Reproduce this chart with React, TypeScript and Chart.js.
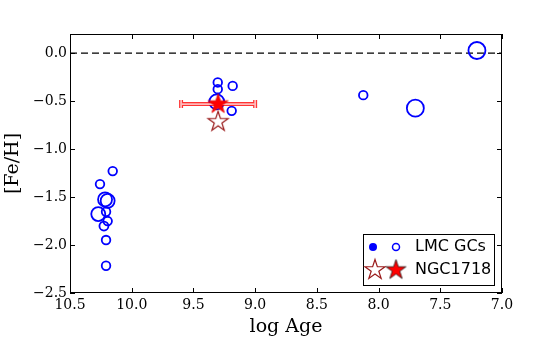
import { useEffect, useRef } from "react";
import { Chart, registerables } from "chart.js";
Chart.register(...registerables);

// LMC globular clusters: log Age, [Fe/H], marker radius
const lmcAge = [10.154, 10.257, 10.216, 10.195, 10.271, 10.208, 10.195, 10.225, 10.208, 10.208, 9.303, 9.303, 9.182, 9.19, 9.311, 8.124, 7.702, 7.203];
const lmcFeH = [-1.229, -1.365, -1.524, -1.539, -1.677, -1.653, -1.75, -1.802, -1.948, -2.216, -0.305, -0.375, -0.341, -0.601, -0.507, -0.4375, -0.573, 0.028];
const lmcSize = [4.3, 4.3, 7, 7, 7, 4.3, 4.3, 4.5, 4.3, 4.3, 4.3, 4.3, 4.3, 4.3, 7.5, 4.3, 8.5, 8.5];

// NGC1718
const ngcAge = [9.3];
const ngcFeH = [-0.53];
const ngcAgeErr = [0.3];
const ngcAltAge = [9.3];
const ngcAltFeH = [-0.715];

const xTicks = [7.0, 7.5, 8.0, 8.5, 9.0, 9.5, 10.0, 10.5];
const yTicks = [-2.5, -2.0, -1.5, -1.0, -0.5, 0.0];
const legendLabels = ["LMC GCs", "NGC1718"];

function makeStar(R: number, fill: string | null, stroke: string, lw: number) {
  const size = Math.ceil(2 * R + 2 * lw + 4);
  const c = document.createElement("canvas");
  c.width = size;
  c.height = size;
  const ctx = c.getContext("2d")!;
  const cx = size / 2;
  const cy = size / 2;
  ctx.beginPath();
  for (let i = 0; i < 10; i++) {
    const r = i % 2 ? R * 0.382 : R;
    const a = -Math.PI / 2 + (i * Math.PI) / 5;
    const x = cx + r * Math.cos(a);
    const y = cy + r * Math.sin(a);
    if (i === 0) ctx.moveTo(x, y);
    else ctx.lineTo(x, y);
  }
  ctx.closePath();
  if (fill) {
    ctx.fillStyle = fill;
    ctx.fill();
  }
  ctx.strokeStyle = stroke;
  ctx.lineWidth = lw;
  ctx.lineJoin = "miter";
  ctx.stroke();
  return c;
}

const fmt = (v: number) => {
  const s = Math.abs(v) < 1e-9 ? "0.0" : v.toFixed(1);
  return s.replace("-", "\u2212");
};

export default function App() {
  const ref = useRef<HTMLCanvasElement>(null);
  useEffect(() => {
    const canvas = ref.current!;
    const plotStar = makeStar(10.5, "#ff0000", "#e00000", 0.8);
    const legendStar = makeStar(10.5, "#ff0000", "#000000", 0.7);
    const openStar = makeStar(10.5, null, "#9a1c1c", 1.2);

    const framePlugin = {
      id: "framePlugin",
      beforeDatasetsDraw(chart: any) {
        const { ctx, chartArea: ca, scales } = chart;
        const y0 = scales.y.getPixelForValue(0);
        ctx.save();
        ctx.strokeStyle = "#000";
        ctx.lineWidth = 1.2;
        ctx.setLineDash([7, 4]);
        ctx.beginPath();
        ctx.moveTo(ca.left, y0);
        ctx.lineTo(ca.right, y0);
        ctx.stroke();
        ctx.restore();
      },
      afterDatasetDraw(chart: any, args: any) {
        if (args.index !== 2) return;
        const { ctx, scales } = chart;
        ctx.save();
        for (let i = 0; i < ngcAge.length; i++) {
          const xa = scales.x.getPixelForValue(ngcAge[i] + ngcAgeErr[i]);
          const xb = scales.x.getPixelForValue(ngcAge[i] - ngcAgeErr[i]);
          const y = scales.y.getPixelForValue(ngcFeH[i]);
          const path = () => {
            ctx.beginPath();
            ctx.moveTo(xa, y);
            ctx.lineTo(xb, y);
            ctx.moveTo(xa, y - 4);
            ctx.lineTo(xa, y + 4);
            ctx.moveTo(xb, y - 4);
            ctx.lineTo(xb, y + 4);
          };
          path();
          ctx.strokeStyle = "rgba(255,0,0,0.8)";
          ctx.lineWidth = 4;
          ctx.stroke();
          path();
          ctx.strokeStyle = "rgba(255,185,185,1)";
          ctx.lineWidth = 1.8;
          ctx.stroke();
        }
        ctx.restore();
      },
      afterDraw(chart: any) {
        const { ctx, chartArea: ca, scales } = chart;
        ctx.save();
        ctx.strokeStyle = "#000";
        ctx.lineWidth = 1;
        ctx.strokeRect(ca.left + 0.5, ca.top + 0.5, ca.right - ca.left - 1, ca.bottom - ca.top - 1);
        const tl = 5;
        ctx.beginPath();
        for (const v of xTicks) {
          const x = Math.round(scales.x.getPixelForValue(v)) + 0.5;
          ctx.moveTo(x, ca.bottom);
          ctx.lineTo(x, ca.bottom - tl);
          ctx.moveTo(x, ca.top);
          ctx.lineTo(x, ca.top + tl);
        }
        for (const v of yTicks) {
          const y = Math.round(scales.y.getPixelForValue(v)) + 0.5;
          ctx.moveTo(ca.left, y);
          ctx.lineTo(ca.left + tl, y);
          ctx.moveTo(ca.right, y);
          ctx.lineTo(ca.right - tl, y);
        }
        ctx.stroke();

        // legend
        const w = 131, h = 51;
        const x0 = ca.right - 8 - w;
        const y0 = ca.bottom - 8 - h;
        ctx.fillStyle = "#fff";
        ctx.fillRect(x0, y0, w, h);
        ctx.strokeRect(x0 + 0.5, y0 + 0.5, w, h);
        const r1 = y0 + 13;
        const r2 = y0 + 36;
        ctx.fillStyle = "#0000ff";
        ctx.beginPath();
        ctx.arc(x0 + 10, r1, 4, 0, Math.PI * 2);
        ctx.fill();
        ctx.strokeStyle = "#0000ff";
        ctx.lineWidth = 1.5;
        ctx.beginPath();
        ctx.arc(x0 + 33, r1, 3.5, 0, Math.PI * 2);
        ctx.stroke();
        ctx.drawImage(openStar, x0 + 12 - openStar.width / 2, r2 - openStar.height / 2);
        ctx.drawImage(legendStar, x0 + 33 - legendStar.width / 2, r2 - legendStar.height / 2);
        ctx.fillStyle = "#000";
        ctx.font = "16px 'DejaVu Sans'";
        ctx.textBaseline = "middle";
        ctx.textAlign = "left";
        ctx.fillText(legendLabels[0], x0 + 52, r1);
        ctx.fillText(legendLabels[1], x0 + 52, r2);
        ctx.restore();
      },
    };

    // Chart.js draws datasets from last to first: circles (index 2) first, filled star (index 0) on top
    const chart = new Chart(canvas, {
      type: "scatter",
      data: {
        datasets: [
          {
            label: legendLabels[1],
            data: ngcAge.map((a, i) => ({ x: a, y: ngcFeH[i] })),
            pointStyle: plotStar as any,
            pointRadius: 10,
          },
          {
            label: legendLabels[1] + " alt",
            data: ngcAltAge.map((a, i) => ({ x: a, y: ngcAltFeH[i] })),
            pointStyle: openStar as any,
            pointRadius: 10,
          },
          {
            label: legendLabels[0],
            data: lmcAge.map((a, i) => ({ x: a, y: lmcFeH[i] })),
            pointStyle: "circle",
            pointRadius: lmcSize,
            backgroundColor: "rgba(0,0,0,0)",
            borderColor: "#0000ff",
            borderWidth: 1.8,
          },
        ],
      },
      options: {
        animation: false,
        responsive: false,
        devicePixelRatio: 1,
        layout: { padding: { top: 34, right: 56, left: 0, bottom: 0 } },
        plugins: { legend: { display: false }, tooltip: { enabled: false } },
        scales: {
          x: {
            type: "linear",
            reverse: true,
            min: 7.0,
            max: 10.5,
            grid: { display: false, drawTicks: false },
            border: { display: false },
            afterBuildTicks: (s: any) => {
              s.ticks = xTicks.map((v) => ({ value: v }));
            },
            afterFit: (s: any) => {
              s.height = 52;
            },
            ticks: {
              padding: 4,
              maxRotation: 0,
              autoSkip: false,
              color: "#000",
              font: { family: "'DejaVu Serif'", size: 14 },
              callback: (v: any) => fmt(Number(v)),
            },
            title: {
              display: true,
              text: "log Age",
              color: "#000",
              font: { family: "'DejaVu Serif'", size: 19 },
              padding: { top: 0, bottom: 7 },
            },
          },
          y: {
            type: "linear",
            min: -2.5,
            max: 0.2,
            grid: { display: false, drawTicks: false },
            border: { display: false },
            afterBuildTicks: (s: any) => {
              s.ticks = yTicks.map((v) => ({ value: v }));
            },
            afterFit: (s: any) => {
              s.width = 70;
            },
            ticks: {
              padding: 3,
              autoSkip: false,
              color: "#000",
              font: { family: "'DejaVu Serif'", size: 14 },
              callback: (v: any) => fmt(Number(v)),
            },
            title: {
              display: true,
              text: "[Fe/H]",
              color: "#000",
              font: { family: "'DejaVu Serif'", size: 19 },
              padding: { top: 2, bottom: 0 },
            },
          },
        },
      },
      plugins: [framePlugin],
    });
    return () => chart.destroy();
  }, []);
  return (
    <div style={{ position: "fixed", left: 0, top: 0, width: 558, height: 345, background: "#fff" }}>
      <canvas ref={ref} width={558} height={345} />
    </div>
  );
}
